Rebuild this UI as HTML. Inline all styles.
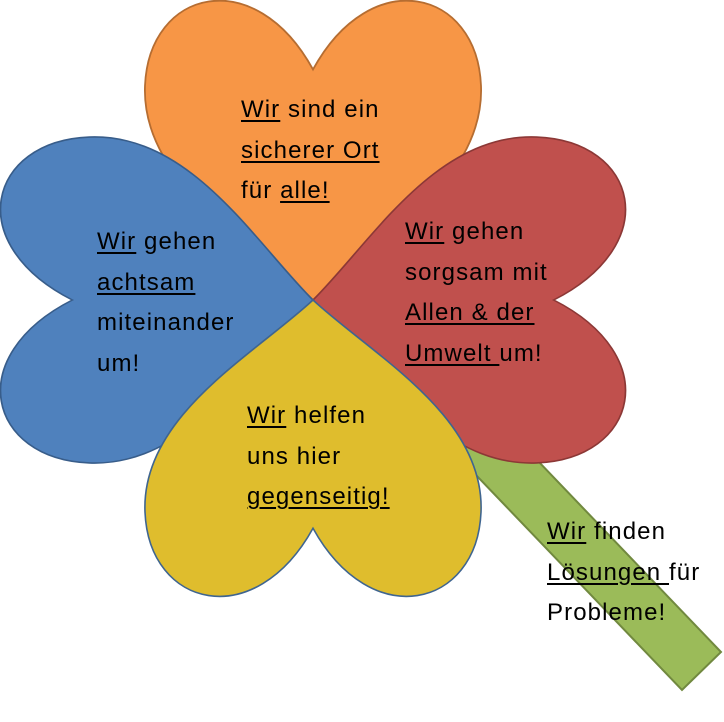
<!DOCTYPE html>
<html><head><meta charset="utf-8"><style>
html,body{margin:0;padding:0;background:#fff;}
#c{position:relative;width:724px;height:722px;overflow:hidden;font-family:"Liberation Sans",sans-serif;}
.t{position:absolute;font-size:24px;letter-spacing:1.1px;line-height:40.5px;color:#000;white-space:nowrap;}
u{text-decoration-thickness:1.5px;text-underline-offset:3px;}
</style></head><body><div id="c">
<svg width="724" height="722" style="position:absolute;left:0;top:0">
<defs>
<path id="h" d="M0 0 C-60 -55 -172 -115 -168 -210 C-164 -305 -58 -330 0 -226 C58 -330 164 -305 168 -210 C172 -115 60 -55 0 0 Z"/>
</defs>
<polygon points="406,402 445,364 721,652 682,690" fill="#9bbb59" stroke="#71893f" stroke-width="2"/>
<g transform="translate(313,300)">
<use href="#h" transform="scale(1,1.02)" fill="#f79646" stroke="#b66d31" stroke-width="1.8"/>
<use href="#h" transform="rotate(90) scale(0.97,1.065)" fill="#c0504d" stroke="#8c3836" stroke-width="1.6"/>
<use href="#h" transform="rotate(-90) scale(0.97,1.065)" fill="#4f81bd" stroke="#385d8a" stroke-width="1.6"/>
<use href="#h" transform="rotate(180) scale(1,1.01)" fill="#dfbd2d" stroke="#3f6590" stroke-width="1.6"/>
</g>
</svg>
<div class="t" style="left:241px;top:90px"><u>Wir</u> sind ein<br><u>sicherer Ort</u><br>für <u>alle!</u></div>
<div class="t" style="left:97px;top:222px"><u>Wir</u> gehen<br><u>achtsam</u><br>miteinander<br>um!</div>
<div class="t" style="left:405px;top:212px"><u>Wir</u> gehen<br>sorgsam mit<br><u>Allen &amp; der</u><br><u>Umwelt </u>um!</div>
<div class="t" style="left:247px;top:396px"><u>Wir</u> helfen<br>uns hier<br><u>gegenseitig!</u></div>
<div class="t" style="left:547px;top:512px"><u>Wir</u> finden<br><u>Lösungen </u>für<br>Probleme!</div>
</div></body></html>
